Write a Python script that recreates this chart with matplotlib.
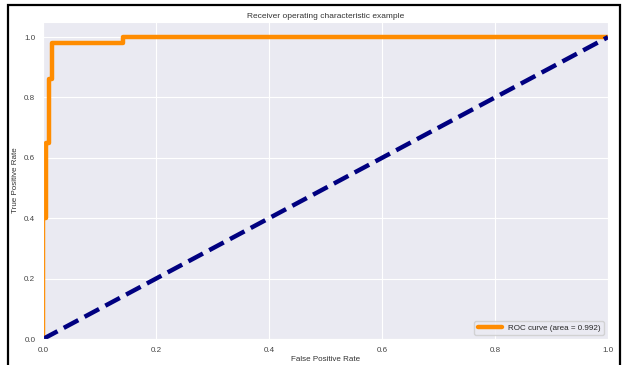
import matplotlib
matplotlib.use("Agg")
import matplotlib.pyplot as plt
import seaborn as sns
from matplotlib.patches import Rectangle

# ROC curve
fpr = [0.0, 0.0, 0.005, 0.005, 0.011, 0.011, 0.016, 0.016, 0.142, 0.142, 1.0]
tpr = [0.0, 0.40, 0.40, 0.65, 0.65, 0.86, 0.86, 0.98, 0.98, 1.0, 1.0]
roc_auc = 0.992
chance = [0.0, 1.0]

sns.set_style("darkgrid")
plt.rcParams['font.family'] = ['Liberation Sans', 'DejaVu Sans']

fig = plt.figure(figsize=(6.26, 3.65), dpi=100)
fig.patch.set_facecolor("white")
ax = fig.add_axes([43 / 626, 1 - 339 / 365, (608 - 43) / 626, (339 - 22) / 365])

ax.plot(fpr, tpr, color="darkorange", lw=3.2, label="ROC curve (area = %0.3f)" % roc_auc)
ax.plot(chance, chance, color="navy", lw=3.2, linestyle="--")
ax.set_xlim(0.0, 1.0)
ax.set_ylim(0.0, 1.05)
ax.set_yticks([0.0, 0.2, 0.4, 0.6, 0.8, 1.0])
ax.set_xticks([0.0, 0.2, 0.4, 0.6, 0.8, 1.0])
ax.tick_params(labelsize=5.8, colors="#444444", pad=2)
ax.set_xlabel("False Positive Rate", fontsize=5.8, labelpad=2, color="#333333")
ax.set_ylabel("True Positive Rate", fontsize=5.8, labelpad=4, color="#333333")
ax.set_title("Receiver operating characteristic example", fontsize=6, pad=3, color="#333333")
leg = ax.legend(loc="lower right", fontsize=5.8, frameon=True, handlelength=3)
for line in leg.get_lines():
    line.set_linewidth(3.2)

# black frame around the whole picture
fig.patches.append(Rectangle((8 / 626, -0.05), (620 - 8) / 626, 1 - 5 / 365 + 0.05,
                             transform=fig.transFigure, fill=False,
                             edgecolor="black", lw=1.6, zorder=10))

fig.savefig("out.png", dpi=100)
